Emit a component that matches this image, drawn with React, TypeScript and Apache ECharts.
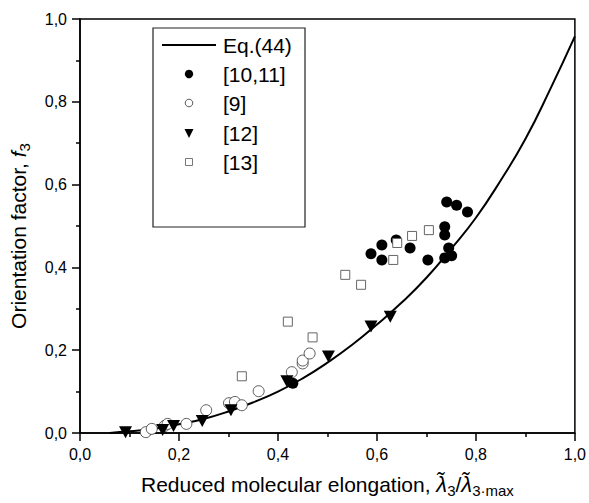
import React, { useEffect, useRef } from 'react';
import * as echarts from 'echarts';

// Eq.(44) curve
const curveX = [0.06, 0.1, 0.15, 0.2, 0.25, 0.3, 0.35, 0.4, 0.45, 0.5, 0.55, 0.6, 0.65, 0.7, 0.75, 0.8, 0.85, 0.9, 0.95, 1.0];
const curveY = [0.0, 0.004, 0.01, 0.021, 0.034, 0.052, 0.074, 0.1, 0.132, 0.17, 0.213, 0.262, 0.315, 0.375, 0.445, 0.52, 0.61, 0.71, 0.83, 0.958];

// [10,11] filled circles
const r1011X = [0.43, 0.588, 0.61, 0.61, 0.639, 0.667, 0.703, 0.737, 0.737, 0.737, 0.745, 0.751, 0.741, 0.761, 0.783];
const r1011Y = [0.12, 0.433, 0.454, 0.418, 0.466, 0.447, 0.418, 0.498, 0.478, 0.423, 0.447, 0.428, 0.558, 0.55, 0.534];

// [9] open circles
const r9X = [0.133, 0.145, 0.171, 0.177, 0.215, 0.255, 0.301, 0.313, 0.327, 0.361, 0.428, 0.45, 0.45, 0.464];
const r9Y = [0.002, 0.01, 0.017, 0.022, 0.022, 0.055, 0.072, 0.075, 0.067, 0.101, 0.147, 0.168, 0.175, 0.192];

// [12] down triangles
const r12X = [0.092, 0.167, 0.189, 0.247, 0.305, 0.418, 0.502, 0.588, 0.627];
const r12Y = [0.002, 0.007, 0.017, 0.029, 0.055, 0.125, 0.185, 0.257, 0.281];

// [13] open squares
const r13X = [0.327, 0.42, 0.47, 0.536, 0.568, 0.633, 0.641, 0.671, 0.705];
const r13Y = [0.137, 0.269, 0.231, 0.382, 0.358, 0.418, 0.459, 0.476, 0.49];

const legendLabels = ['Eq.(44)', '[10,11]', '[9]', '[12]', '[13]'];

const zip = (xs: number[], ys: number[]) => xs.map((x, i) => [x, ys[i]]);
const FONT = 'Liberation Sans, Arial, sans-serif';
const fmt = (v: number) => v.toFixed(1).replace('.', ',');

export default function App() {
  const ref = useRef<HTMLDivElement>(null);
  useEffect(() => {
    if (!ref.current) return;
    const chart = echarts.init(ref.current, null, { renderer: 'svg' });
    const axisCommon = {
      type: 'value' as const,
      min: 0,
      max: 1,
      interval: 0.2,
      axisLine: { show: true, onZero: false, lineStyle: { color: '#000', width: 1.5 } },
      axisTick: { show: true, inside: false, length: 8, lineStyle: { color: '#000', width: 1.5 } },
      minorTick: { show: true, splitNumber: 2, length: 4, lineStyle: { color: '#000', width: 1.5 } },
      splitLine: { show: false },
      axisLabel: { formatter: fmt, fontSize: 16, fontFamily: FONT, color: '#000', margin: 13 },
      nameLocation: 'middle' as const,
    };
    const richCommon = {
      t: { fontSize: 21, fontFamily: FONT, color: '#000' },
      l: { fontSize: 22, fontStyle: 'italic', fontFamily: FONT, color: '#000' },
      i: { fontSize: 21, fontStyle: 'italic', fontFamily: FONT, color: '#000' },
      s: { fontSize: 15, fontFamily: FONT, color: '#000', padding: [12, 0, 0, 0] },
    };
    const lx = 189, tx = 223;
    const rows = [45, 74, 103, 133, 162];
    const graphics: any[] = [
      { type: 'rect', shape: { x: 153, y: 28, width: 152, height: 199 }, style: { fill: '#fff', stroke: '#222', lineWidth: 1.2 }, z: 10 },
      { type: 'line', shape: { x1: 162, y1: rows[0], x2: 216, y2: rows[0] }, style: { stroke: '#000', lineWidth: 2 }, z: 11 },
      { type: 'circle', shape: { cx: lx, cy: rows[1], r: 4.2 }, style: { fill: '#000' }, z: 11 },
      { type: 'circle', shape: { cx: lx, cy: rows[2], r: 3.8 }, style: { fill: '#fff', stroke: '#333', lineWidth: 0.8 }, z: 11 },
      { type: 'polygon', shape: { points: [[lx - 4.5, rows[3] - 4], [lx + 4.5, rows[3] - 4], [lx, rows[3] + 5]] }, style: { fill: '#000' }, z: 11 },
      { type: 'rect', shape: { x: lx - 3.5, y: rows[4] - 3.5, width: 7, height: 7 }, style: { fill: '#fff', stroke: '#777', lineWidth: 1 }, z: 11 },
    ];
    legendLabels.forEach((t, i) => {
      graphics.push({ type: 'text', x: tx, y: rows[i], style: { text: t, fontSize: 21, fontFamily: FONT, fill: '#000', verticalAlign: 'middle', align: 'left' }, z: 11 });
    });
    chart.setOption({
      animation: false,
      backgroundColor: '#fff',
      grid: { left: 79, top: 19, right: 12, bottom: 68, show: true, borderColor: '#000', borderWidth: 1.5, backgroundColor: 'transparent' },
      xAxis: {
        ...axisCommon,
        name: '{t|Reduced molecular elongation, }{l|λ̃}{s|3}{t|/}{l|λ̃}{s|3·max}',
        nameGap: 38,
        nameTextStyle: { fontSize: 21, fontFamily: FONT, color: '#000', rich: richCommon },
      },
      yAxis: {
        ...axisCommon,
        name: '{t|Orientation factor, }{i|f}{s|3}',
        nameGap: 48,
        nameRotate: 90,
        nameTextStyle: { fontSize: 21, fontFamily: FONT, color: '#000', rich: richCommon, padding: [0, 20, 0, 0] },
      },
      graphic: graphics,
      series: [
        { name: legendLabels[0], type: 'line', data: zip(curveX, curveY), smooth: true, showSymbol: false, lineStyle: { color: '#000', width: 2 }, z: 2 },
        { name: legendLabels[1], type: 'scatter', data: zip(r1011X, r1011Y), symbol: 'circle', symbolSize: 11, itemStyle: { color: '#000', opacity: 1 }, z: 3 },
        { name: legendLabels[2], type: 'scatter', data: zip(r9X, r9Y), symbol: 'circle', symbolSize: 11, itemStyle: { color: '#fff', borderColor: '#333', borderWidth: 0.8, opacity: 1 }, z: 3 },
        { name: legendLabels[3], type: 'scatter', data: zip(r12X, r12Y), symbol: 'triangle', symbolRotate: 180, symbolSize: [13, 12], itemStyle: { color: '#000', opacity: 1 }, z: 3 },
        { name: legendLabels[4], type: 'scatter', data: zip(r13X, r13Y), symbol: 'rect', symbolSize: 9, itemStyle: { color: '#fff', borderColor: '#666', borderWidth: 1, opacity: 1 }, z: 3 },
      ],
    });
    return () => chart.dispose();
  }, []);
  return <div ref={ref} style={{ width: 589, height: 503, position: 'absolute', left: 0, top: 0 }} />;
}
